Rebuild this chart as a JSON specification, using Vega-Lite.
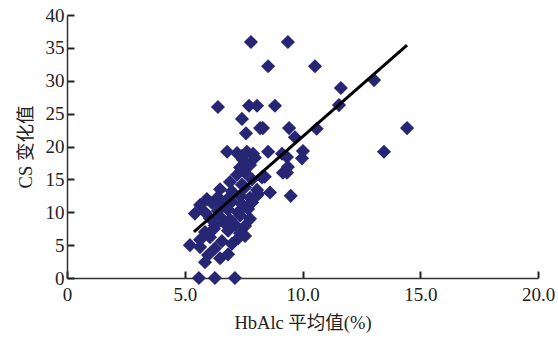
{
  "$schema": "https://vega.github.io/schema/vega-lite/v6.json",
  "width": 471,
  "height": 263,
  "autosize": {"type": "none"},
  "padding": {"left": 67, "top": 15, "right": 20, "bottom": 61},
  "background": "white",
  "config": {
    "view": {"stroke": null},
    "axis": {
      "grid": false,
      "domainColor": "#333333",
      "domainWidth": 1.5,
      "labelFont": "Liberation Serif",
      "labelFontSize": 19,
      "labelColor": "#222222",
      "labelOverlap": false,
      "labelBound": false,
      "labelFlush": false,
      "titleFont": "Liberation Serif, Noto Sans CJK SC",
      "titleFontSize": 18.5,
      "titleFontWeight": "normal",
      "titleColor": "#222222"
    }
  },
  "datasets": {
    "pts": [
      {"x": 5.6, "y": 0}, {"x": 6.28, "y": 0}, {"x": 7.13, "y": 0},
      {"x": 5.86, "y": 2.4}, {"x": 6.5, "y": 3.0},
      {"x": 5.99, "y": 3.5}, {"x": 6.84, "y": 3.6},
      {"x": 5.22, "y": 5.0}, {"x": 5.65, "y": 4.7}, {"x": 6.28, "y": 4.5}, {"x": 7.0, "y": 5.2},
      {"x": 5.65, "y": 5.8}, {"x": 6.07, "y": 6.2}, {"x": 6.58, "y": 5.6}, {"x": 7.26, "y": 6.0}, {"x": 7.56, "y": 6.4},
      {"x": 5.86, "y": 7.0}, {"x": 6.24, "y": 7.5}, {"x": 6.84, "y": 7.2}, {"x": 7.35, "y": 6.8},
      {"x": 6.28, "y": 8.0}, {"x": 6.7, "y": 8.3}, {"x": 7.13, "y": 8.1}, {"x": 7.56, "y": 7.9},
      {"x": 6.07, "y": 9.1}, {"x": 6.5, "y": 9.3}, {"x": 6.92, "y": 8.9}, {"x": 7.35, "y": 9.5}, {"x": 7.77, "y": 9.0},
      {"x": 5.43, "y": 9.8}, {"x": 5.86, "y": 10.0}, {"x": 6.41, "y": 10.2}, {"x": 6.84, "y": 10.4}, {"x": 7.26, "y": 10.0}, {"x": 7.69, "y": 10.5},
      {"x": 5.65, "y": 11.1}, {"x": 6.16, "y": 11.4}, {"x": 6.58, "y": 11.0}, {"x": 7.0, "y": 11.6}, {"x": 7.43, "y": 11.2}, {"x": 7.86, "y": 11.5},
      {"x": 5.94, "y": 12.0}, {"x": 6.41, "y": 12.3}, {"x": 6.84, "y": 12.1}, {"x": 7.35, "y": 12.5}, {"x": 7.77, "y": 12.2}, {"x": 8.11, "y": 12.8}, {"x": 8.62, "y": 13.0},
      {"x": 6.5, "y": 13.5}, {"x": 7.0, "y": 13.2}, {"x": 7.56, "y": 13.8}, {"x": 8.07, "y": 13.4},
      {"x": 6.92, "y": 14.6}, {"x": 7.43, "y": 14.2}, {"x": 7.86, "y": 15.0},
      {"x": 7.22, "y": 15.7}, {"x": 7.56, "y": 16.0}, {"x": 8.28, "y": 15.3},
      {"x": 7.35, "y": 16.8}, {"x": 7.77, "y": 17.2},
      {"x": 7.47, "y": 18.0}, {"x": 7.98, "y": 18.3},
      {"x": 6.8, "y": 19.2}, {"x": 7.22, "y": 19.0}, {"x": 7.43, "y": 18.6}, {"x": 7.64, "y": 19.2}, {"x": 7.9, "y": 18.9}, {"x": 8.54, "y": 19.2},
      {"x": 8.07, "y": 12.6}, {"x": 9.5, "y": 12.5}, {"x": 8.4, "y": 15.4},
      {"x": 9.17, "y": 16.0}, {"x": 9.34, "y": 16.0}, {"x": 9.38, "y": 16.9},
      {"x": 9.34, "y": 18.4}, {"x": 9.13, "y": 18.9}, {"x": 10.02, "y": 19.3}, {"x": 9.98, "y": 18.2},
      {"x": 9.68, "y": 21.4}, {"x": 8.2, "y": 22.8}, {"x": 8.32, "y": 22.8}, {"x": 9.43, "y": 22.8}, {"x": 10.6, "y": 22.7},
      {"x": 7.6, "y": 22.0}, {"x": 7.43, "y": 24.2},
      {"x": 6.41, "y": 26.0}, {"x": 7.73, "y": 26.2}, {"x": 8.07, "y": 26.2}, {"x": 8.83, "y": 26.2}, {"x": 11.55, "y": 26.3},
      {"x": 11.63, "y": 28.9}, {"x": 13.04, "y": 30.1},
      {"x": 8.54, "y": 32.2}, {"x": 10.53, "y": 32.2},
      {"x": 7.81, "y": 35.9}, {"x": 9.38, "y": 35.9},
      {"x": 14.44, "y": 22.8}, {"x": 13.46, "y": 19.2}
    ],
    "fit": [
      {"x": 5.39, "y": 7.0},
      {"x": 14.44, "y": 35.4}
    ]
  },
  "encoding": {
    "x": {
      "field": "x", "type": "quantitative",
      "scale": {"domain": [0, 20], "nice": false, "padding": 0, "zero": false},
      "axis": {
        "values": [0, 5, 10, 15, 20],
        "labelExpr": "datum.value == 0 ? '0' : format(datum.value, '.1f')",
        "ticks": true,
        "tickSize": -7,
        "tickWidth": 2,
        "tickColor": "#222222",
        "tickOpacity": 1,
        "labelPadding": 14,
        "title": "HbAlc 平均值(%)",
        "titlePadding": 9
      }
    },
    "y": {
      "field": "y", "type": "quantitative",
      "scale": {"domain": [0, 40], "nice": false, "padding": 0, "zero": false},
      "axis": {
        "values": [0, 5, 10, 15, 20, 25, 30, 35, 40],
        "ticks": true,
        "tickSize": -7,
        "tickWidth": 2,
        "tickColor": "#222222",
        "tickOpacity": 1,
        "labelPadding": 10,
        "title": "CS 变化值",
        "titlePadding": 10
      }
    }
  },
  "layer": [
    {
      "data": {"name": "pts"},
      "mark": {"type": "point", "shape": "diamond", "filled": true, "size": 200, "color": "#262674", "opacity": 1}
    },
    {
      "data": {"name": "fit"},
      "mark": {"type": "line", "color": "#000000", "strokeWidth": 3}
    }
  ]
}
